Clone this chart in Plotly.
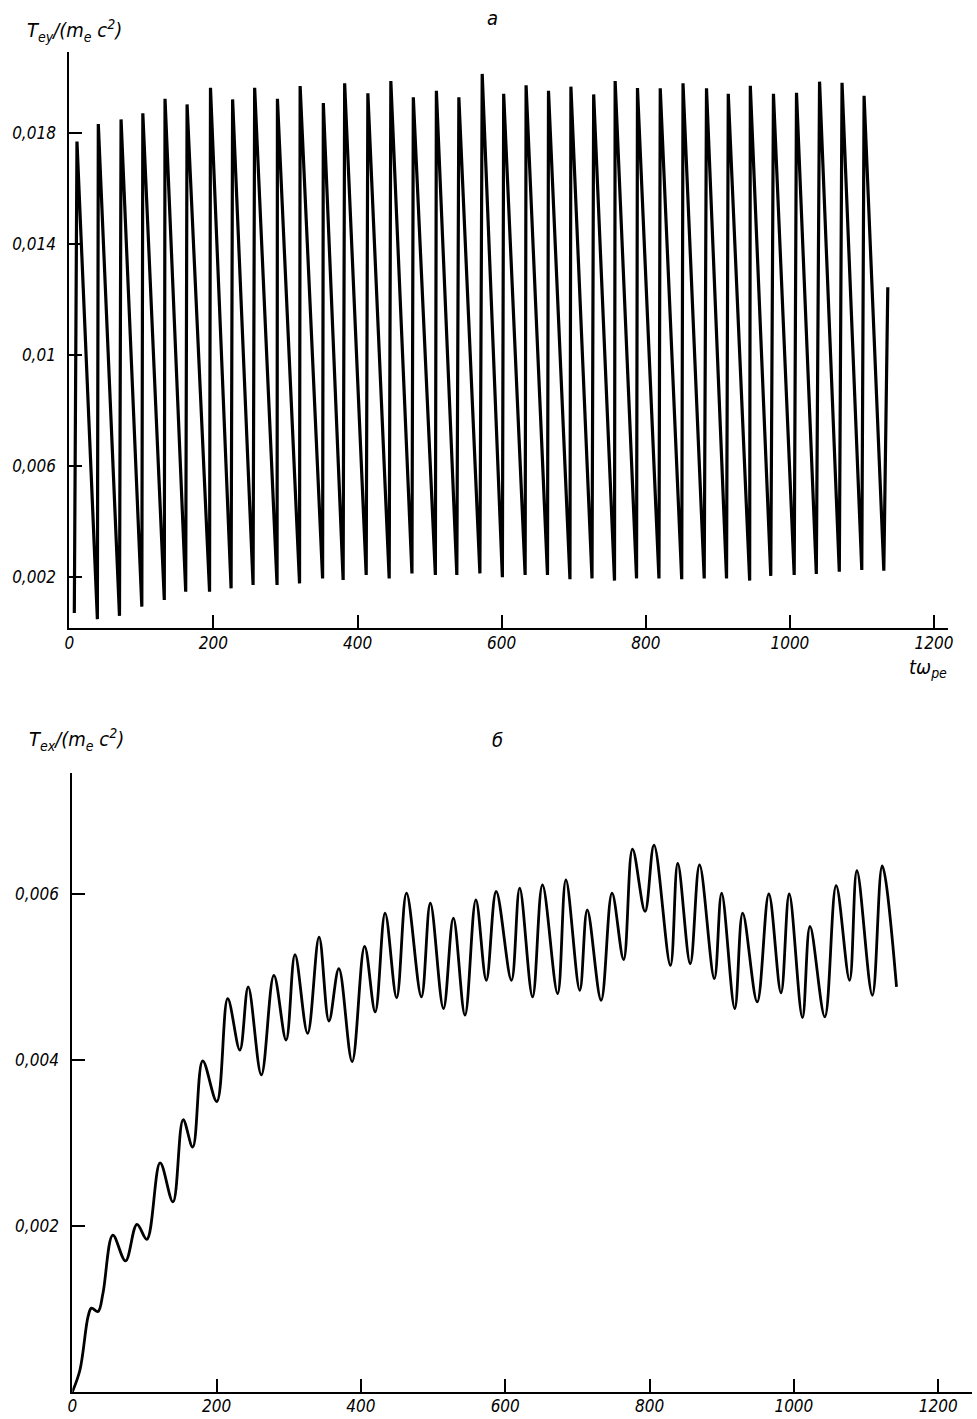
import plotly.graph_objects as go

# ---------------- Panel "а": T_ey/(m_e c^2) ----------------
top_trough_t = [6.9, 38.9, 69.6, 100.6, 131.8, 161.5, 194.6, 224.5, 255.0, 288.3,
                319.5, 351.5, 380.0, 412.0, 443.9, 475.5, 508.0, 537.8, 569.8, 601.0,
                632.6, 663.6, 694.8, 725.4, 756.6, 787.2, 818.3, 849.9, 881.1, 912.1,
                944.2, 973.5, 1006.0, 1036.7, 1068.6, 1099.8, 1130.4]
top_trough_v = [0.00070, 0.00048, 0.00060, 0.00093, 0.00117, 0.00147, 0.00147, 0.00159, 0.00171, 0.00171,
                0.00177, 0.00195, 0.00189, 0.00207, 0.00195, 0.00213, 0.00207, 0.00207, 0.00213, 0.00199,
                0.00207, 0.00207, 0.00192, 0.00195, 0.00187, 0.00195, 0.00195, 0.00192, 0.00195, 0.00195,
                0.00187, 0.00204, 0.00207, 0.00211, 0.00219, 0.00225, 0.00223]
top_peak_t = [10.6, 40.2, 71.8, 102.0, 132.8, 163.4, 195.9, 226.6, 257.2, 288.8,
              320.3, 352.5, 382.1, 414.3, 446.2, 477.4, 509.4, 540.6, 573.0, 602.8,
              633.9, 665.0, 696.1, 727.7, 757.5, 788.5, 820.1, 851.7, 884.3, 914.5,
              945.1, 977.2, 1009.2, 1041.2, 1072.4, 1103.0]
top_peak_v = [0.01769, 0.01832, 0.01849, 0.01871, 0.01923, 0.01903, 0.01963, 0.01921, 0.01963, 0.01923,
              0.01969, 0.01908, 0.01979, 0.01943, 0.01987, 0.01929, 0.01952, 0.01929, 0.02013, 0.01941,
              0.01972, 0.01952, 0.01967, 0.01939, 0.01987, 0.01962, 0.01961, 0.01979, 0.01961, 0.01941,
              0.01970, 0.01941, 0.01945, 0.01985, 0.01981, 0.01934]
top_end_t = 1135.9
top_end_v = 0.01244

top_ytick_vals = [0.002, 0.006, 0.01, 0.014, 0.018]
top_ytick_text = ["0,002", "0,006", "0,01", "0,014", "0,018"]

# ---------------- Panel "б": T_ex/(m_e c^2) ----------------
bot_t = [0.0, 10.6, 21.9, 26.5, 35.7, 42.5, 56.2, 73.7, 89.6, 103.3,
         121.7, 139.5, 153.6, 166.9, 180.7, 200.3, 215.4, 232.2, 243.8, 262.0,
         279.4, 296.3, 308.6, 326.1, 342.0, 355.7, 369.4, 387.8, 405.1, 419.8,
         433.5, 449.5, 463.2, 483.8, 496.2, 514.4, 528.1, 544.2, 559.3, 573.8,
         587.5, 608.6, 620.0, 637.9, 651.6, 672.6, 684.1, 703.3, 713.7, 732.9,
         748.0, 764.1, 776.4, 793.8, 806.2, 828.9, 839.1, 856.4, 869.3, 889.8,
         899.9, 918.1, 929.1, 949.2, 965.3, 982.2, 993.6, 1011.9, 1022.4, 1042.9,
         1058.6, 1077.2, 1087.4, 1108.8, 1122.5, 1142.3]
bot_v = [0.0, 0.000265, 0.00091, 0.00101, 0.00097, 0.00119, 0.00189, 0.00158, 0.00202, 0.00184,
         0.00276, 0.00229, 0.00328, 0.00295, 0.00399, 0.00350, 0.00474, 0.00412, 0.00488, 0.00382,
         0.00502, 0.00424, 0.00527, 0.00432, 0.00548, 0.00447, 0.00510, 0.00398, 0.00537, 0.00458,
         0.00577, 0.00475, 0.00601, 0.00476, 0.00589, 0.00462, 0.00571, 0.00454, 0.00593, 0.00496,
         0.00603, 0.00496, 0.00607, 0.00476, 0.00611, 0.00480, 0.00617, 0.00484, 0.00581, 0.00472,
         0.00601, 0.00521, 0.00654, 0.00579, 0.00659, 0.00514, 0.00637, 0.00516, 0.00635, 0.00498,
         0.00601, 0.00462, 0.00577, 0.00470, 0.00600, 0.00481, 0.00600, 0.00451, 0.00561, 0.00452,
         0.00610, 0.00496, 0.00628, 0.00478, 0.00634, 0.00488]

bot_ytick_vals = [0.002, 0.004, 0.006]
bot_ytick_text = ["0,002", "0,004", "0,006"]

xtick_vals = [0, 200, 400, 600, 800, 1000, 1200]
xtick_text = ["0", "200", "400", "600", "800", "1000", "1200"]

# assemble the sawtooth-like top series from troughs and peaks
top_t, top_v = [], []
for i in range(len(top_peak_t)):
    top_t += [top_trough_t[i], top_peak_t[i]]
    top_v += [top_trough_v[i], top_peak_v[i]]
top_t += [top_trough_t[-1], top_end_t]
top_v += [top_trough_v[-1], top_end_v]

W, H = 977, 1419
FONT = "Liberation Sans Narrow, DejaVu Sans Condensed, Liberation Sans, sans-serif"

fig = go.Figure()
fig.add_trace(go.Scatter(x=top_t, y=top_v, mode="lines",
                         line=dict(color="black", width=3.2),
                         xaxis="x", yaxis="y", hoverinfo="skip"))
fig.add_trace(go.Scatter(x=bot_t, y=bot_v, mode="lines",
                         line=dict(color="black", width=2.8, shape="spline", smoothing=1.0),
                         xaxis="x2", yaxis="y2", hoverinfo="skip"))


def px_x(p):
    return p / W


def px_y(p):
    return 1 - p / H


ax_common = dict(showline=True, linecolor="black", linewidth=2, ticks="inside",
                 ticklen=13, tickwidth=1.5, tickcolor="black", showgrid=False,
                 zeroline=False, tickfont=dict(family=FONT, size=17, color="black"))

fig.update_layout(
    width=W, height=H,
    margin=dict(l=0, r=0, t=0, b=0),
    paper_bgcolor="white", plot_bgcolor="white",
    showlegend=False,
    xaxis=dict(domain=[px_x(65), px_x(953)], range=[0, 1219.8], anchor="y",
               tickvals=xtick_vals, ticktext=["<i>%s</i>" % s for s in xtick_text],
               ticklabelstandoff=-1, **ax_common),
    yaxis=dict(domain=[px_y(628), px_y(52)], range=[0.000162, 0.020919], anchor="x",
               tickvals=top_ytick_vals, ticktext=["<i>%s</i>" % s for s in top_ytick_text],
               ticklabelstandoff=8, **ax_common),
    xaxis2=dict(domain=[px_x(68), 1.0], range=[0, 1246.9], anchor="y2",
                tickvals=xtick_vals, ticktext=["<i>%s</i>" % s for s in xtick_text],
                ticklabelstandoff=-2, **ax_common),
    yaxis2=dict(domain=[px_y(1392), px_y(773)], range=[0, 0.007458], anchor="x2",
                tickvals=bot_ytick_vals, ticktext=["<i>%s</i>" % s for s in bot_ytick_text],
                ticklabelstandoff=8, **ax_common),
)

ann_font = dict(family=FONT, size=20, color="black")
annotations = [
    dict(text="<i>T<sub>ey</sub>/(m<sub>e</sub> c<sup>2</sup>)</i>", x=px_x(20), y=px_y(30),
         xanchor="left", yanchor="middle"),
    dict(text="<i>а</i>", x=px_x(493), y=px_y(18), xanchor="center", yanchor="middle"),
    dict(text="<i>tω<sub>pe</sub></i>", x=px_x(954), y=px_y(668), xanchor="right", yanchor="middle"),
    dict(text="<i>T<sub>ex</sub>/(m<sub>e</sub> c<sup>2</sup>)</i>", x=px_x(22), y=px_y(740),
         xanchor="left", yanchor="middle"),
    dict(text="<i>б</i>", x=px_x(498), y=px_y(740), xanchor="center", yanchor="middle"),
]
fig.update_layout(annotations=[dict(a, xref="paper", yref="paper", showarrow=False, font=ann_font)
                               for a in annotations])

fig.write_html("out.html", config={"displayModeBar": False},
               post_script="document.body.style.margin='0px';document.body.style.overflow='hidden';")
